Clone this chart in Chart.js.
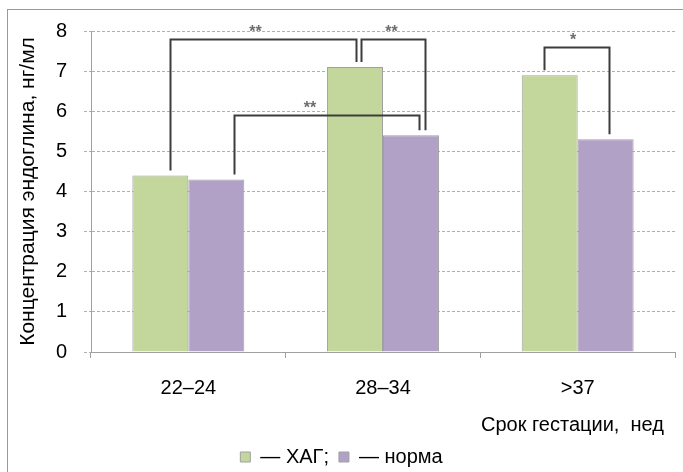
<!DOCTYPE html>
<html>
<head>
<meta charset="utf-8">
<script src="https://cdn.jsdelivr.net/npm/chart.js@4"></script>
<style>
  html, body { margin: 0; padding: 0; background: #fff; }
  #wrap { width: 683px; height: 472px; }
</style>
</head>
<body>
<div id="wrap"><canvas id="endoglinChart" width="683" height="472"></canvas></div>
<script>
// данные
const categories = ['22–24', '28–34', '>37'];
const hagValues = [4.4, 7.1, 6.9];
const normValues = [4.3, 5.4, 5.3];
const seriesNames = ['— ХАГ;', '— норма'];
const yTitle = 'Концентрация эндоглина, нг/мл';
const xTitle = 'Срок гестации,  нед\u00A0\u00A0';

// скобки значимости: [набор, индекс, сдвиг]
const brackets = [
    { a: [0, 0, 10], b: [0, 1, 1], top: 7.8, label: '**', labelDx: -8 },
    { a: [0, 1, 6], b: [1, 1, 14], top: 7.8, label: '**', labelDx: -2 },
    { a: [1, 0, 18], b: [1, 1, 8], top: 5.9, label: '**', labelDx: -17 },
    { a: [0, 2, -6], b: [1, 2, 3], top: 7.6, label: '*', labelDx: -4 }
];

const font = '"Liberation Sans", Arial, sans-serif';

const frame = {
    id: 'frame',
    beforeDraw(chart) {
        const ctx = chart.ctx;
        ctx.save();
        ctx.fillStyle = '#fff';
        ctx.fillRect(0, 0, chart.width, chart.height);
        ctx.strokeStyle = '#9a9a9a';
        ctx.lineWidth = 1;
        ctx.strokeRect(7.5, 9.5, 700, 500);
        ctx.restore();
    }
};

const bracketPlugin = {
    id: 'brackets',
    afterDatasetsDraw(chart) {
        const ctx = chart.ctx;
        const y = chart.scales.y;
        ctx.save();
        brackets.forEach(function (b) {
            const p1 = chart.getDatasetMeta(b.a[0]).data[b.a[1]];
            const p2 = chart.getDatasetMeta(b.b[0]).data[b.b[1]];
            const x1 = Math.round(p1.x + b.a[2]) + 0.5;
            const x2 = Math.round(p2.x + b.b[2]) + 0.5;
            const yt = Math.round(y.getPixelForValue(b.top)) + 0.5;
            ctx.strokeStyle = '#3c3c3c';
            ctx.lineWidth = 2;
            ctx.beginPath();
            ctx.moveTo(x1, p1.y - 5);
            ctx.lineTo(x1, yt);
            ctx.lineTo(x2, yt);
            ctx.lineTo(x2, p2.y - 5);
            ctx.stroke();
            ctx.fillStyle = '#6e6e6e';
            ctx.font = 'bold 16px ' + font;
            ctx.textAlign = 'center';
            ctx.textBaseline = 'middle';
            ctx.fillText(b.label, (x1 + x2) / 2 + b.labelDx, yt - 7);
        });
        ctx.restore();
    }
};

const ctx = document.getElementById('endoglinChart').getContext('2d');
new Chart(ctx, {
    type: 'bar',
    data: {
        labels: categories,
        datasets: [{
            label: seriesNames[0],
            data: hagValues,
            backgroundColor: '#c3d69b',
            borderColor: '#a0a0a0',
            borderWidth: 1
        }, {
            label: seriesNames[1],
            data: normValues,
            backgroundColor: '#b2a1c7',
            borderColor: '#a0a0a0',
            borderWidth: 1
        }]
    },
    options: {
        responsive: false,
        animation: false,
        categoryPercentage: 0.575,
        barPercentage: 1.0,
        layout: { padding: { left: 8, right: 8, top: 31, bottom: -5 } },
        plugins: {
            tooltip: { enabled: false },
            legend: {
                position: 'bottom',
                labels: {
                    color: '#000',
                    font: { family: font, size: 20 },
                    boxWidth: 10,
                    boxHeight: 10,
                    padding: 10
                }
            }
        },
        scales: {
            x: {
                afterFit: function (scale) { scale.height = 85; },
                grid: {
                    drawOnChartArea: false,
                    drawTicks: true,
                    tickLength: 6,
                    color: '#a0a0a0'
                },
                border: { color: '#a0a0a0' },
                ticks: {
                    color: '#000',
                    padding: 18,
                    font: { family: font, size: 20 }
                },
                title: {
                    display: true,
                    text: xTitle,
                    align: 'end',
                    color: '#000',
                    padding: { top: 0, bottom: 0 },
                    font: { family: font, size: 20 }
                }
            },
            y: {
                min: 0,
                max: 8,
                afterFit: function (scale) { scale.width = 83; },
                grid: {
                    color: '#b0b0b0',
                    tickLength: 7,
                    tickBorderDash: [3, 2]
                },
                border: { color: '#a0a0a0', dash: [3, 2] },
                ticks: {
                    stepSize: 1,
                    color: '#000',
                    padding: 17,
                    font: { family: font, size: 20 }
                },
                title: {
                    display: true,
                    text: yTitle,
                    color: '#000',
                    padding: { top: 8, bottom: 0 },
                    font: { family: font, size: 21 }
                }
            }
        }
    },
    plugins: [frame, bracketPlugin]
});
</script>
</body>
</html>
